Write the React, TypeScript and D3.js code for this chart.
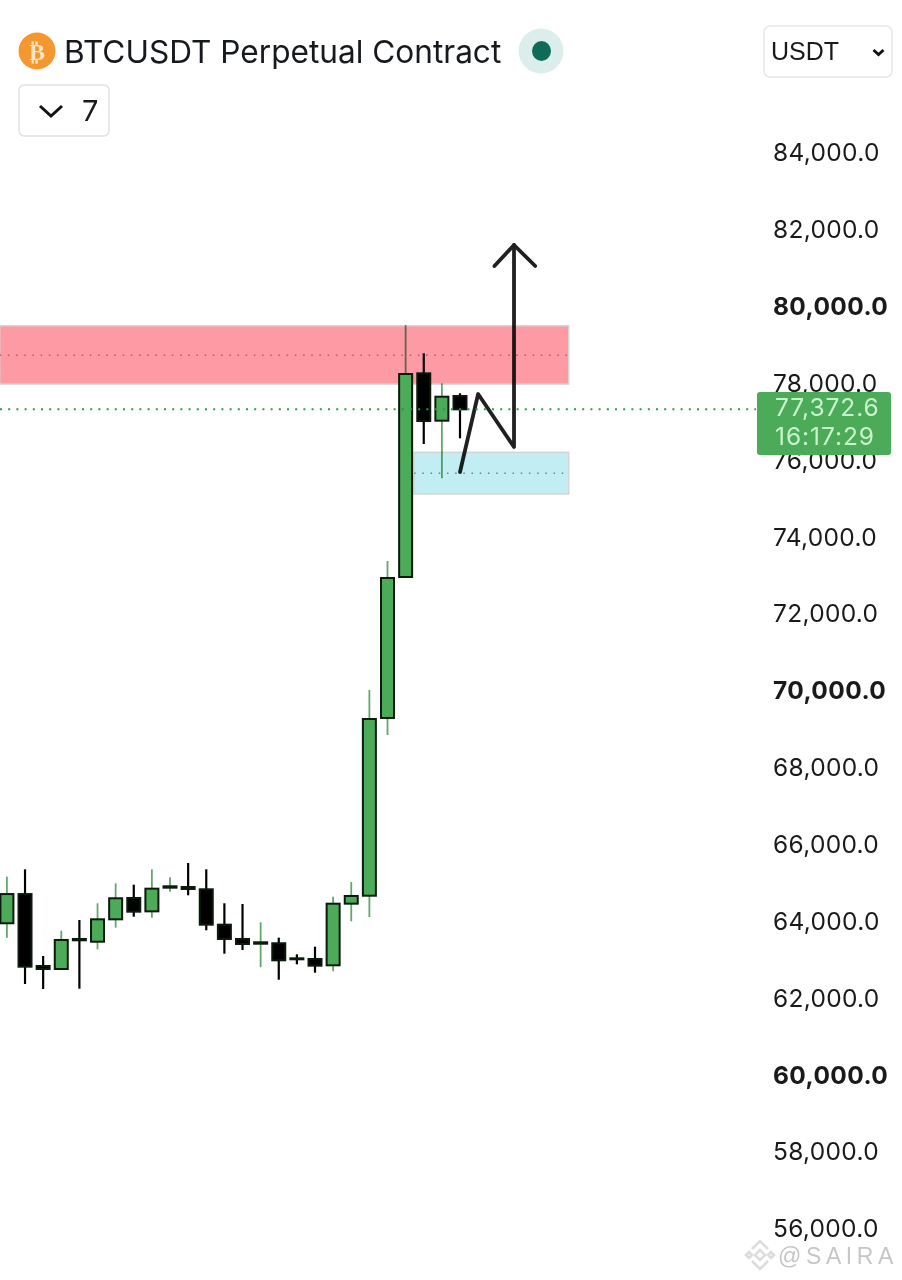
import React, { useEffect, useRef } from "react"
import * as d3 from "d3"

const WIDTH = 902
const HEIGHT = 1280

// [open, close, high, low]
const candles: [number, number, number, number][] = [
    [63930, 64690, 65140, 63555],
    [64690, 62800, 65334, 62350],
    [62818, 62740, 63078, 62220],
    [62740, 63495, 63737, 62740],
    [63521, 63487, 64015, 62227],
    [63450, 64033, 64450, 63253],
    [64033, 64580, 64970, 63815],
    [64588, 64231, 64934, 64101],
    [64240, 64830, 65334, 64075],
    [64856, 64892, 65126, 64752],
    [64874, 64822, 65498, 64658],
    [64814, 63893, 65334, 63747],
    [63893, 63521, 64450, 63138],
    [63521, 63391, 64431, 63234],
    [63398, 63435, 63955, 62784],
    [63410, 62966, 63555, 62461],
    [63018, 62992, 63122, 62862],
    [63000, 62826, 63320, 62644],
    [62836, 64439, 64621, 62680],
    [64440, 64640, 65004, 63981],
    [64647, 69245, 70000, 64093],
    [69272, 72915, 73357, 68829],
    [72941, 78223, 79498, 72941],
    [78241, 77000, 78762, 76402],
    [77008, 77632, 77981, 75509],
    [77651, 77304, 77721, 76550],
]

const priceTicks = [84000, 82000, 80000, 78000, 76000, 74000, 72000, 70000, 68000, 66000, 64000, 62000, 60000, 58000, 56000]
const boldTicks = [80000, 70000, 60000]

const lastPriceLevel = 77304
const lastPriceLabel = "77,372.6"
const countdownLabel = "16:17:29"

const titleText = "BTCUSDT Perpetual Contract"

// drawn zones: [start index, end index, top price, bottom price, dotted price]
const redZone = [-0.4, 31, 79480, 77960, 78710]
const blueZone = [22.47, 31, 76185, 75100, 75639]

// hand drawn path as [index, price]
const zigzag: [number, number][] = [[25, 75673], [26, 77703], [27.98, 76324], [27.98, 81580]]
const arrowHead: [number, number][] = [[26.9, 81033], [27.98, 81580], [29.15, 81033]]

const GREEN = "#4cab58"
const FONT = "Inter, 'Liberation Sans', sans-serif"

const App: React.FC = () => {
    const svgRef = useRef<SVGSVGElement | null>(null)

    useEffect(() => {
        if (!svgRef.current) return
        const svg = d3.select(svgRef.current)
        svg.selectAll("*").remove()

        const x = d3.scaleLinear().domain([0, 25]).range([6.9, 460])
        const y = d3.scaleLinear().domain([84000, 56000]).range([152, 1228])
        const line = d3.line<[number, number]>().x(d => x(d[0])).y(d => y(d[1]))
        const isUp = (d: number[]) => d[1] >= d[0]

        // wicks
        svg.append("g")
            .selectAll("line")
            .data(candles)
            .enter()
            .append("line")
            .attr("x1", (_, i) => x(i))
            .attr("x2", (_, i) => x(i))
            .attr("y1", d => y(d[2]))
            .attr("y2", d => y(d[3]))
            .attr("stroke", d => (isUp(d) ? "#62a86b" : "#000"))
            .attr("stroke-width", d => (isUp(d) ? 1.8 : 2.2))

        // hand drawn arrow, sits under the zones
        const drawn = svg.append("g").attr("fill", "none").attr("stroke", "#202020")
            .attr("stroke-width", 3.8).attr("stroke-linejoin", "round").attr("stroke-linecap", "round")
        drawn.append("path").attr("d", line(zigzag))
        drawn.append("path").attr("d", line(arrowHead))

        // zones
        const zones = [
            { z: redZone, fill: "#fd9aa4", dot: "#a8636b" },
            { z: blueZone, fill: "#c2edf3", dot: "#5f8f86" },
        ]
        zones.forEach(({ z, fill, dot }) => {
            svg.append("rect")
                .attr("x", x(z[0]))
                .attr("y", y(z[2]))
                .attr("width", x(z[1]) - x(z[0]))
                .attr("height", y(z[3]) - y(z[2]))
                .attr("fill", fill)
                .attr("stroke", "#d3d6d8")
                .attr("stroke-width", 1.5)
                .style("mix-blend-mode", "multiply")
            svg.append("line")
                .attr("x1", x(z[0]))
                .attr("x2", x(z[1]))
                .attr("y1", y(z[4]))
                .attr("y2", y(z[4]))
                .attr("stroke", dot)
                .attr("stroke-width", 1.5)
                .attr("stroke-dasharray", "1.5 6.7")
        })

        // bodies
        svg.append("g")
            .selectAll("rect")
            .data(candles)
            .enter()
            .append("rect")
            .attr("x", (_, i) => x(i) - 6.5)
            .attr("width", 13)
            .attr("y", d => y(Math.max(d[0], d[1])))
            .attr("height", d => Math.max(1, Math.abs(y(d[0]) - y(d[1]))))
            .attr("fill", d => (isUp(d) ? GREEN : "#000"))
            .attr("stroke", "#0c1a0e")
            .attr("stroke-width", 2)

        // last price line
        svg.append("line")
            .attr("x1", 0)
            .attr("x2", 756)
            .attr("y1", y(lastPriceLevel))
            .attr("y2", y(lastPriceLevel))
            .attr("stroke", "#2f9a45")
            .attr("stroke-width", 2)
            .attr("stroke-dasharray", "2 6.2")

        // price axis
        const axis = d3.axisRight(y)
            .tickValues(priceTicks)
            .tickSize(0)
            .tickPadding(0)
            .tickFormat(d => d3.format(",.1f")(d as number))
        const axisG = svg.append("g").attr("transform", "translate(773,1)").call(axis)
        axisG.select(".domain").remove()
        axisG.selectAll<SVGTextElement, number>("text")
            .attr("font-family", FONT)
            .attr("font-size", 24.5)
            .attr("font-weight", d => (boldTicks.includes(d) ? 700 : 400))
            .attr("letter-spacing", d => (boldTicks.includes(d) ? 0.4 : 0.3))
            .attr("fill", "#1a1a1a")

        // last price label
        svg.append("rect")
            .attr("x", 757).attr("y", 392).attr("width", 134).attr("height", 63).attr("rx", 3)
            .attr("fill", GREEN)
        ;[lastPriceLabel, countdownLabel].forEach((t, i) => {
            svg.append("text")
                .attr("x", 775).attr("y", 416 + i * 29)
                .attr("font-family", FONT).attr("font-size", 24.5).attr("letter-spacing", 0.95)
                .attr("fill", "#c9f3cc")
                .text(t)
        })

        // header
        svg.append("circle").attr("cx", 37).attr("cy", 51).attr("r", 18.5).attr("fill", "#f4972e")
        svg.append("text")
            .attr("x", 37).attr("y", 60).attr("text-anchor", "middle")
            .attr("font-family", "'DejaVu Sans'").attr("font-weight", 700).attr("font-size", 24)
            .attr("fill", "#fbe3c4")
            .text("₿")
        svg.append("text")
            .attr("x", 64).attr("y", 62.5)
            .attr("font-family", FONT).attr("font-size", 31.6)
            .attr("fill", "#16191d")
            .text(titleText)
        svg.append("circle").attr("cx", 541).attr("cy", 51).attr("r", 22.5).attr("fill", "#dceeeb")
        svg.append("ellipse").attr("cx", 541.5).attr("cy", 51).attr("rx", 9.5).attr("ry", 10).attr("fill", "#0e6b58")

        // "7" button
        svg.append("rect")
            .attr("x", 19).attr("y", 85).attr("width", 90).attr("height", 51).attr("rx", 5)
            .attr("fill", "#fff").attr("stroke", "#dfe1e3").attr("stroke-width", 1.5)
        svg.append("path").attr("d", "M40 106L51 116L62 106").attr("fill", "none")
            .attr("stroke", "#111").attr("stroke-width", 3)
        svg.append("text")
            .attr("x", 82).attr("y", 121)
            .attr("font-family", FONT).attr("font-size", 29).attr("fill", "#1a1a1a")
            .text("7")

        // USDT select
        svg.append("rect")
            .attr("x", 764).attr("y", 26).attr("width", 128).attr("height", 51).attr("rx", 6)
            .attr("fill", "#fff").attr("stroke", "#e6e7e8").attr("stroke-width", 1.5)
        svg.append("text")
            .attr("x", 771).attr("y", 60)
            .attr("font-family", "'Liberation Sans'").attr("font-size", 25).attr("fill", "#1a1a1a")
            .text("USDT")
        svg.append("path").attr("d", "M873.5 50L878.5 54.5L883.5 50").attr("fill", "none")
            .attr("stroke", "#111").attr("stroke-width", 2.8)

        // watermark
        const mark = svg.append("g").attr("fill", "none").attr("stroke", "#dcdcdc").attr("stroke-width", 2.6)
        mark.append("path").attr("d", "M752 1249L760 1241L768 1249")
        mark.append("path").attr("d", "M752 1261L760 1269L768 1261")
        mark.append("path").attr("d", "M746 1255L749 1252L752 1255L749 1258Z")
        mark.append("path").attr("d", "M768 1255L771 1252L774 1255L771 1258Z")
        mark.append("path").attr("d", "M760 1250L765 1255L760 1260L755 1255Z")
        svg.append("text")
            .attr("x", 778).attr("y", 1264)
            .attr("font-family", "'Liberation Sans'").attr("font-size", 23)
            .attr("letter-spacing", 4.6).attr("fill", "#c6c6c6")
            .text("@SAIRA")
    }, [])

    return (
        <svg
            ref={svgRef}
            width={WIDTH}
            height={HEIGHT}
            style={{ position: "absolute", left: 0, top: 0, background: "#fff" }}
        />
    )
}

export default App
